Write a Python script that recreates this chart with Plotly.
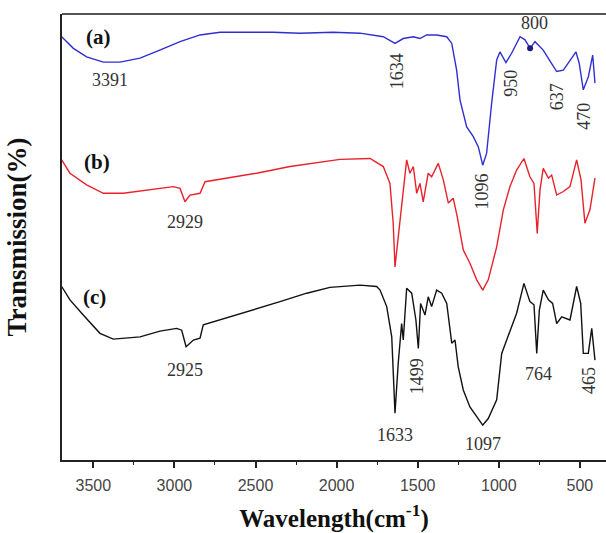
import plotly.graph_objects as go

# ---- data (wavenumber cm^-1, transmission in arbitrary offset units) ----
wn_a = [3695, 3623, 3541, 3438, 3335, 3212, 3109, 2965, 2842, 2719, 2392, 2226, 2022, 1856,
        1712, 1640, 1589, 1527, 1486, 1445, 1383, 1321, 1290, 1260, 1239, 1198, 1157, 1126,
        1099, 1075, 1044, 1013, 993, 956, 921, 869, 838, 807, 777, 726, 674, 643, 602, 561,
        524, 504, 479, 448, 421, 407]
tr_a = [94.9, 92.3, 90.4, 89.2, 89.2, 90.1, 91.6, 93.8, 95.3, 95.9, 95.9, 95.7, 95.9, 95.7,
        94.9, 93.4, 94.5, 94.9, 94.5, 95.3, 95.3, 94.9, 93.4, 87.4, 80.7, 74.7, 72.5, 70.2,
        66.1, 68.8, 80.0, 89.7, 91.5, 89.1, 91.2, 94.9, 94.2, 92.3, 93.8, 91.9, 88.9, 87.1,
        87.4, 89.7, 91.5, 88.9, 83.0, 85.9, 90.8, 84.5]

wn_b = [3695, 3644, 3541, 3438, 3315, 3171, 3007, 2965, 2935, 2904, 2842, 2811, 2678, 2493,
        2287, 2082, 1979, 1794, 1712, 1671, 1651, 1640, 1620, 1599, 1568, 1548, 1527, 1506,
        1486, 1466, 1435, 1414, 1373, 1342, 1311, 1281, 1256, 1219, 1178, 1136, 1099, 1065,
        1013, 972, 931, 890, 845, 808, 783, 763, 746, 726, 694, 674, 643, 602, 561, 520,
        493, 469, 438, 407]
tr_b = [67.3, 64.3, 61.7, 59.8, 59.8, 60.5, 61.3, 60.9, 57.9, 59.4, 59.8, 62.4, 63.2, 64.3,
        65.8, 66.9, 67.4, 67.6, 65.8, 62.0, 53.1, 43.3, 50.1, 58.3, 67.3, 64.3, 65.8, 59.8,
        62.0, 57.9, 64.3, 63.5, 66.5, 62.8, 57.6, 58.7, 54.5, 47.1, 44.1, 40.4, 38.1, 40.4,
        47.8, 56.1, 61.3, 65.0, 67.6, 63.5, 62.0, 50.8, 60.5, 65.4, 63.2, 63.9, 59.4, 60.2,
        61.3, 67.3, 62.8, 53.1, 56.1, 63.2]

wn_c = [3695, 3644, 3562, 3459, 3377, 3212, 3089, 2986, 2955, 2928, 2883, 2842, 2822, 2719,
        2554, 2349, 2184, 2041, 1856, 1753, 1732, 1691, 1660, 1640, 1620, 1599, 1589, 1568,
        1537, 1511, 1496, 1482, 1455, 1435, 1414, 1383, 1352, 1321, 1290, 1270, 1250, 1219,
        1178, 1136, 1099, 1065, 1013, 982, 951, 890, 845, 808, 783, 766, 750, 726, 694, 668,
        643, 612, 561, 520, 495, 479, 448, 427, 407]
tr_c = [38.9, 35.9, 32.5, 28.4, 27.1, 27.6, 28.9, 29.5, 29.1, 25.4, 26.9, 27.3, 30.3, 31.4,
        33.2, 35.5, 37.4, 38.7, 39.2, 38.9, 38.1, 34.4, 27.6, 10.5, 21.7, 30.6, 26.9, 38.5,
        37.4, 31.4, 25.0, 35.1, 32.5, 36.6, 34.4, 38.1, 37.4, 35.1, 26.2, 26.9, 20.9, 15.7,
        11.9, 9.7, 7.8, 9.3, 13.5, 23.9, 26.9, 32.9, 39.6, 35.5, 34.8, 23.9, 33.6, 38.1, 35.9,
        35.1, 30.6, 32.1, 31.4, 38.9, 35.1, 23.9, 23.9, 29.5, 22.4]

tick_vals = [3500, 3000, 2500, 2000, 1500, 1000, 500]
tick_text = ["3500", "3000", "2500", "2000", "1500", "1000", "500"]

# peak labels: text, wavenumber, level, rotated?
peak_text = ["3391", "2929", "2925", "1634", "800", "950", "637", "470", "1096",
             "1499", "1633", "1097", "764", "465"]
peak_x = [3397, 2935, 2935, 1630, 777, 921, 643, 479, 1106, 1506, 1640, 1096, 757, 445]
peak_y = [85.2, 53.4, 20.2, 87.1, 97.9, 84.5, 81.5, 77.0, 60.1, 18.7, 5.6, 3.7, 19.3, 17.9]
peak_rot = [False, False, False, True, False, True, True, True, True, True, False, False, False, True]

panel_text = ["(a)", "(b)", "(c)"]
panel_x = [3469, 3479, 3490]
panel_y = [94.9, 66.9, 36.6]

fig = go.Figure()
fig.add_trace(go.Scatter(x=wn_a, y=tr_a, mode="lines", line=dict(color="#2f2fd0", width=1.4)))
fig.add_trace(go.Scatter(x=wn_b, y=tr_b, mode="lines", line=dict(color="#e8222c", width=1.4)))
fig.add_trace(go.Scatter(x=wn_c, y=tr_c, mode="lines", line=dict(color="#111111", width=1.4)))
fig.add_trace(go.Scatter(x=[wn_a[37]], y=[tr_a[37]], mode="markers",
                         marker=dict(color="#1a1a80", size=6)))

annos = []
for t, x, y, r in zip(peak_text, peak_x, peak_y, peak_rot):
    annos.append(dict(x=x, y=y, xref="x", yref="y", text=t, showarrow=False,
                      textangle=-90 if r else 0,
                      font=dict(family="Liberation Serif", size=18, color="#333333")))
for t, x, y in zip(panel_text, panel_x, panel_y):
    annos.append(dict(x=x, y=y, xref="x", yref="y", text=t, showarrow=False,
                      font=dict(family="Liberation Serif", size=21, color="#111111", weight="bold")))

fig.update_layout(
    width=606, height=533,
    margin=dict(l=62, r=0, t=14, b=73, autoexpand=False),
    paper_bgcolor="white", plot_bgcolor="white",
    showlegend=False,
    hovermode=False,
    annotations=annos,
    shapes=[dict(type="line", xref="paper", yref="paper", x0=0, x1=1, y0=1, y1=1,
                 line=dict(color="#555555", width=2))],
    xaxis=dict(range=[3693, 339], tickvals=tick_vals, ticktext=tick_text, automargin=False,
               ticks="outside", ticklen=6, tickwidth=1.5, tickcolor="#222",
               minor=dict(ticks="outside", ticklen=3, tickwidth=1.2, dtick=250, tickcolor="#222"),
               showline=True, linecolor="#222", linewidth=1.8, showgrid=False, zeroline=False,
               ticklabelstandoff=4,
               tickfont=dict(family="Liberation Sans", size=16, color="#444444"),
               title=dict(text="Wavelength(cm<sup>-1</sup>)", standoff=16,
                          font=dict(family="Liberation Serif", size=25, color="#111111", weight="bold"))),
    yaxis=dict(range=[0, 100], showticklabels=False, ticks="", showgrid=False, zeroline=False,
               showline=True, linecolor="#222", linewidth=1.8, automargin=False,
               title=dict(text="Transmission(%)", standoff=26,
                          font=dict(family="Liberation Serif", size=27, color="#111111", weight="bold"))),
)

fig.write_html("out.html", config={"displayModeBar": False},
               post_script="document.body.style.margin='0';document.body.style.overflow='hidden';")
